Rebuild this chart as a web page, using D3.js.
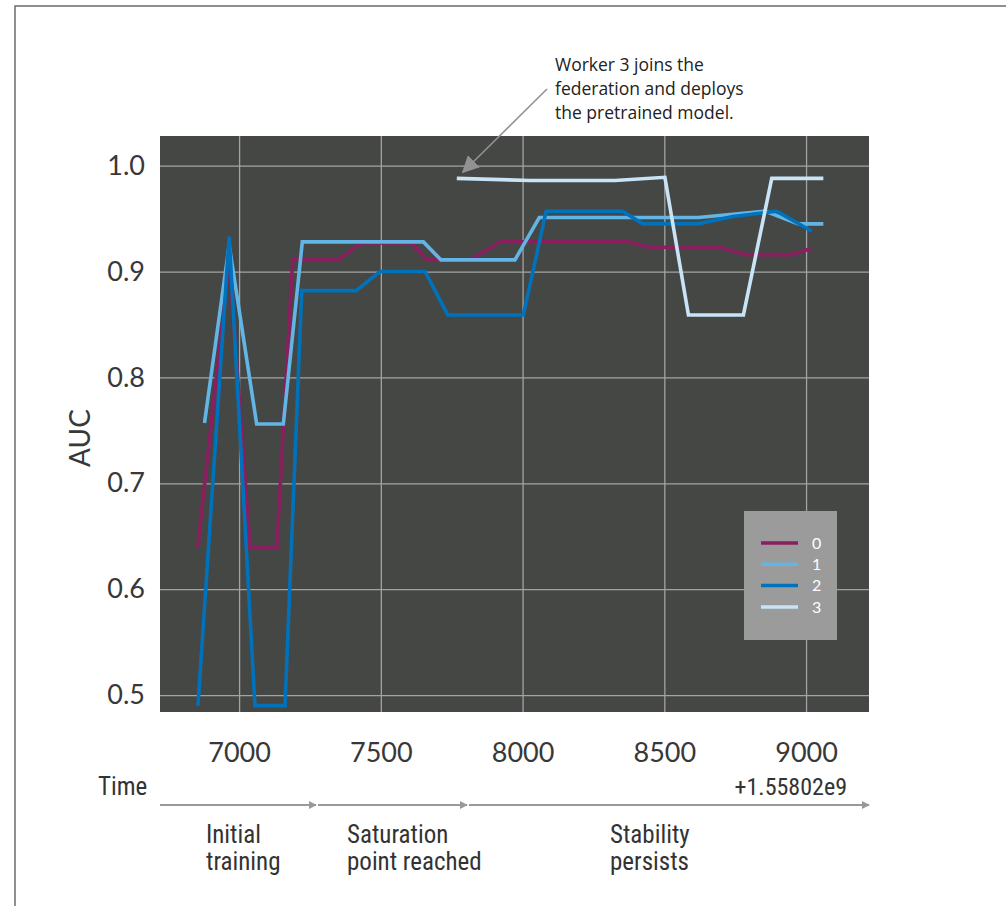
<!DOCTYPE html>
<html><head><meta charset="utf-8">
<script src="https://cdn.jsdelivr.net/npm/d3@7"></script>
<style>
html,body{margin:0;padding:0;background:#fff;}
svg{display:block;}
</style></head>
<body>
<script>
// ---- data ----
const xTicks = [7000, 7500, 8000, 8500, 9000];
const yTicks = [0.5, 0.6, 0.7, 0.8, 0.9, 1.0];
const seriesNames = ["0", "1", "2", "3"];
const seriesColors = ["#8a1f5f", "#62b5e5", "#0072bc", "#c9e4f6"];

const time0 = [6854, 6965, 7039, 7133, 7189, 7350, 7429, 7609, 7662, 7815, 7921, 8373, 8444, 8697, 8785, 8949, 9020];
const auc0  = [0.640, 0.910, 0.639, 0.639, 0.911, 0.911, 0.927, 0.927, 0.911, 0.911, 0.928, 0.928, 0.923, 0.923, 0.916, 0.916, 0.922];

const time1 = [6878, 6965, 7062, 7156, 7223, 7650, 7712, 7973, 8059, 8620, 8855, 8973, 9061];
const auc1  = [0.757, 0.925, 0.756, 0.756, 0.928, 0.928, 0.911, 0.911, 0.951, 0.951, 0.957, 0.945, 0.945];

const time2 = [6855, 6965, 7056, 7162, 7221, 7413, 7497, 7656, 7736, 8003, 8083, 8353, 8424, 8619, 8742, 8896, 9020];
const auc2  = [0.490, 0.933, 0.490, 0.490, 0.882, 0.882, 0.900, 0.900, 0.859, 0.859, 0.957, 0.957, 0.945, 0.945, 0.952, 0.957, 0.938];

const time3 = [7768, 8026, 8326, 8502, 8585, 8779, 8879, 9061];
const auc3  = [0.988, 0.986, 0.986, 0.989, 0.859, 0.859, 0.988, 0.988];

const phaseLabels = [["Initial", "training"], ["Saturation", "point reached"], ["Stability", "persists"]];
const annotationLines = ["Worker 3 joins the", "federation and deploys", "the pretrained model."];

// ---- layout ----
const W = 1006, H = 906;
const plot = {left: 160, top: 136, right: 869, bottom: 712};
const tickFont = "Lato, 'Open Sans', sans-serif";
const narrowFont = "'Liberation Sans Narrow', 'Arial Narrow', 'Roboto Condensed', sans-serif";

const svg = d3.select("body").append("svg").attr("width", W).attr("height", H);

// frame
svg.append("path").attr("d", `M15,${H} L15,6 L${W},6`).attr("fill", "none")
  .attr("stroke", "#6b6b6b").attr("stroke-width", 1.5);

const x = d3.scaleLinear().domain([6721, 9222]).range([plot.left, plot.right]);
const y = d3.scaleLinear().domain([0.484, 1.028]).range([plot.bottom, plot.top]);

svg.append("rect").attr("x", plot.left).attr("y", plot.top)
  .attr("width", plot.right - plot.left).attr("height", plot.bottom - plot.top)
  .attr("fill", "#454744");

// grid
const gx = svg.append("g").attr("transform", `translate(0,${plot.bottom})`)
  .call(d3.axisBottom(x).tickValues(xTicks).tickSize(-(plot.bottom - plot.top)).tickFormat(""));
gx.select(".domain").remove();
gx.selectAll("line").attr("stroke", "#a3a3a3").attr("stroke-width", 1.3);

const gy = svg.append("g").attr("transform", `translate(${plot.left},0)`)
  .call(d3.axisLeft(y).tickValues(yTicks).tickSize(-(plot.right - plot.left)).tickFormat(""));
gy.select(".domain").remove();
gy.selectAll("line").attr("stroke", "#a3a3a3").attr("stroke-width", 1.3);

// tick labels
const ax = svg.append("g").attr("transform", `translate(0,${plot.bottom})`)
  .call(d3.axisBottom(x).tickValues(xTicks).tickSize(0).tickPadding(31).tickFormat(d3.format("d")));
ax.select(".domain").remove();
ax.selectAll("text").attr("font-family", tickFont).attr("font-size", 27).attr("fill", "#383838");

const ay = svg.append("g").attr("transform", `translate(${plot.left},0)`)
  .call(d3.axisLeft(y).tickValues(yTicks).tickSize(0).tickPadding(15).tickFormat(d3.format(".1f")));
ay.select(".domain").remove();
ay.selectAll("text").attr("font-family", tickFont).attr("font-size", 27).attr("fill", "#383838");

svg.append("text").attr("transform", `translate(90,438) rotate(-90)`)
  .attr("text-anchor", "middle").attr("font-family", tickFont)
  .attr("font-size", 28).attr("fill", "#383838").text("AUC");

// lines
const series = [
  {t: time0, v: auc0}, {t: time1, v: auc1}, {t: time2, v: auc2}, {t: time3, v: auc3}
];
const line = d3.line().x(d => x(d[0])).y(d => y(d[1]));
series.forEach((s, i) => {
  svg.append("path").datum(s.t.map((t, j) => [t, s.v[j]]))
    .attr("d", line).attr("fill", "none").attr("stroke", seriesColors[i])
    .attr("stroke-width", 3.6).attr("stroke-linejoin", "miter").attr("stroke-linecap", "butt");
});

// legend
const lg = svg.append("g");
lg.append("rect").attr("x", 744).attr("y", 511).attr("width", 93).attr("height", 129).attr("fill", "#9b9b9b");
seriesNames.forEach((n, i) => {
  const yy = 543 + i * 21.3;
  lg.append("line").attr("x1", 761).attr("x2", 798).attr("y1", yy).attr("y2", yy)
    .attr("stroke", seriesColors[i]).attr("stroke-width", 3.5);
  lg.append("text").attr("x", 812).attr("y", yy).attr("dy", "0.36em")
    .attr("font-family", tickFont).attr("font-size", 16)
    .attr("fill", "#fff").text(n);
});

// annotation
const defs = svg.append("defs");
defs.append("marker").attr("id", "ah").attr("viewBox", "0 0 10 10").attr("refX", 9).attr("refY", 5)
  .attr("markerWidth", 8).attr("markerHeight", 8).attr("markerUnits", "userSpaceOnUse")
  .attr("orient", "auto")
  .append("path").attr("d", "M0,0 L10,5 L0,10 z").attr("fill", "#999");
defs.append("marker").attr("id", "ah2").attr("viewBox", "0 0 10 10").attr("refX", 9).attr("refY", 5)
  .attr("markerWidth", 17).attr("markerHeight", 17).attr("markerUnits", "userSpaceOnUse")
  .attr("orient", "auto")
  .append("path").attr("d", "M0,0 L10,5 L0,10 z").attr("fill", "#929292");

svg.append("line").attr("x1", 547).attr("y1", 89).attr("x2", 463).attr("y2", 172)
  .attr("stroke", "#929292").attr("stroke-width", 1.6).attr("marker-end", "url(#ah2)");

const at = svg.append("text").attr("font-family", "'Open Sans', sans-serif").attr("font-size", 17.5)
  .attr("fill", "#222");
annotationLines.forEach((l, i) => {
  at.append("tspan").attr("x", 555).attr("y", 71 + i * 24).text(l);
});

// timeline
svg.append("text").attr("x", 98).attr("y", 795).attr("font-family", narrowFont)
  .attr("font-size", 25).attr("fill", "#333").text("Time");
svg.append("text").attr("x", 847).attr("y", 795).attr("text-anchor", "end").attr("font-family", narrowFont)
  .attr("font-size", 24).attr("fill", "#333").text("+1.55802e9");

const segs = [[160, 316], [318, 467], [469, 869]];
segs.forEach(s => {
  svg.append("line").attr("x1", s[0]).attr("x2", s[1]).attr("y1", 805).attr("y2", 805)
    .attr("stroke", "#999").attr("stroke-width", 2).attr("marker-end", "url(#ah)");
});

const phaseX = [206, 347, 610];
phaseLabels.forEach((pl, i) => {
  pl.forEach((l, j) => {
    svg.append("text").attr("x", phaseX[i]).attr("y", 843 + j * 27)
      .attr("font-family", narrowFont).attr("font-size", 25).attr("fill", "#333").text(l);
  });
});
</script>
</body></html>
